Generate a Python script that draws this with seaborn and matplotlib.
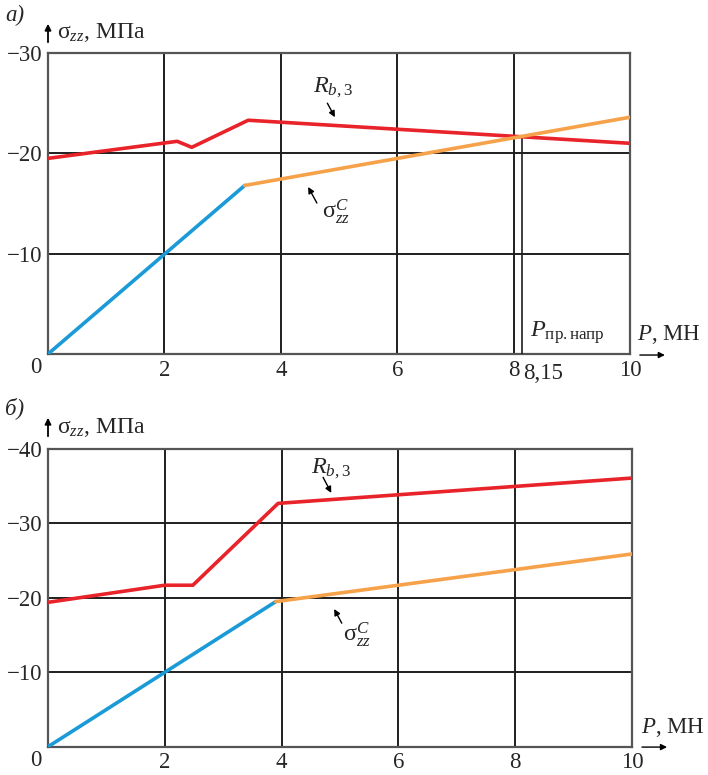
import pandas as pd
import matplotlib
matplotlib.use("Agg")
import matplotlib.pyplot as plt
import seaborn as sns

# --- data (P in MN, sigma in MPa) ---
a_red_p = [0, 2.22, 2.47, 3.44, 10]
a_red_s = [-19.5, -21.2, -20.6, -23.3, -21.0]
a_blue_p = [0, 3.38]
a_blue_s = [0, -16.8]
a_orange_p = [3.38, 10]
a_orange_s = [-16.8, -23.6]
a_p_limit = 8.15
a_s_limit = -21.7

b_red_p = [0, 2.0, 2.48, 3.94, 10]
b_red_s = [-19.4, -21.7, -21.7, -32.7, -36.1]
b_blue_p = [0, 3.9]
b_blue_s = [0, -19.5]
b_orange_p = [3.9, 10]
b_orange_s = [-19.5, -25.9]

x_ticks = [2, 4, 6, 8, 10]
a_y_ticks = [-30, -20, -10]
b_y_ticks = [-40, -30, -20, -10]

RED = "#E8232A"
BLUE = "#1A9AD7"
ORANGE = "#F6A24A"
GRID = "#1e1e1e"

sns.set_theme(style="white")
plt.rcParams["font.family"] = ["Liberation Serif", "DejaVu Serif"]
plt.rcParams["mathtext.fontset"] = "custom"
plt.rcParams["mathtext.rm"] = "Liberation Serif"
plt.rcParams["mathtext.it"] = "Liberation Serif:italic"
plt.rcParams["mathtext.bf"] = "Liberation Serif:bold"
plt.rcParams["axes.unicode_minus"] = True

FS = 16.5

fig = plt.figure(figsize=(7.08, 7.75), dpi=100)
ax_a = fig.add_axes([0.0678, 0.5432, 0.822, 0.3884])
ax_b = fig.add_axes([0.0678, 0.0365, 0.8249, 0.3841])


def draw_lines(ax, series):
    for p, s, c in series:
        df = pd.DataFrame({"P": p, "sigma": s})
        sns.lineplot(data=df, x="P", y="sigma", ax=ax, color=c, lw=2.6,
                     sort=False, estimator=None, zorder=5)


def style_axes(ax, yticks, ylow):
    ax.set_xlim(0, 10)
    ax.set_ylim(0, ylow)
    ax.set_xticks(x_ticks)
    ax.set_yticks(yticks)
    ax.set_xticklabels([str(t) for t in x_ticks], fontsize=FS)
    ax.set_yticklabels([f"\u2212{abs(t)}" for t in yticks], fontsize=FS)
    ax.tick_params(length=0, pad=4)
    ax.grid(True, color=GRID, lw=1.4)
    ax.set_axisbelow(True)
    for sp in ax.spines.values():
        sp.set_color("#555555")
        sp.set_linewidth(1.6)
    ax.set_xlabel("")
    ax.set_ylabel("")
    # zero at the corner
    ax.annotate("0", xy=(0, 0), xycoords="axes fraction", xytext=(-9, -10),
                textcoords="offset points", fontsize=FS, ha="center",
                va="center")


arrow = dict(arrowstyle="-|>", color="black", lw=1.0, mutation_scale=9,
             shrinkA=0, shrinkB=0)

# ---- panel a ----
draw_lines(ax_a, [(a_red_p, a_red_s, RED), (a_blue_p, a_blue_s, BLUE),
                  (a_orange_p, a_orange_s, ORANGE)])
style_axes(ax_a, a_y_ticks, -30)
ax_a.vlines(a_p_limit, 0, a_s_limit, color=GRID, lw=1.2, zorder=3)
ax_a.text(a_p_limit + 0.02, 0.85, "8,15", fontsize=FS, ha="left", va="top",
          clip_on=False)

ax_a.text(4.55, -26.5, "$R_{b,3}$", fontsize=FS + 1, ha="left", va="center")
ax_a.annotate("", xy=(4.93, -23.6), xytext=(4.8, -25.0), arrowprops=arrow)
ax_a.text(4.7, -14.2, "σ$_{zz}^{C}$", fontsize=FS + 1, ha="left", va="center")
ax_a.annotate("", xy=(4.47, -16.65), xytext=(4.62, -15.05), arrowprops=arrow)
ax_a.text(8.28, -2.1, "$P_{\\mathrm{пр.напр}}$", fontsize=FS + 1, ha="left",
          va="center")
ax_a.text(10.12, -1.9, "$P$, МН", fontsize=FS, ha="left", va="center",
          clip_on=False)
ax_a.annotate("", xy=(10.6, 0.1), xytext=(10.17, 0.1), arrowprops=arrow,
              annotation_clip=False)

# ---- panel b ----
draw_lines(ax_b, [(b_red_p, b_red_s, RED), (b_blue_p, b_blue_s, BLUE),
                  (b_orange_p, b_orange_s, ORANGE)])
style_axes(ax_b, b_y_ticks, -40)
ax_b.text(4.5, -37.3, "$R_{b,3}$", fontsize=FS + 1, ha="left", va="center")
ax_b.annotate("", xy=(4.85, -34.1), xytext=(4.71, -36.2), arrowprops=arrow)
ax_b.text(5.05, -15.0, "σ$_{zz}^{C}$", fontsize=FS + 1, ha="left", va="center")
ax_b.annotate("", xy=(4.9, -18.5), xytext=(5.03, -16.6), arrowprops=arrow)
ax_b.text(10.15, -2.6, "$P$, МН", fontsize=FS, ha="left", va="center",
          clip_on=False)
ax_b.annotate("", xy=(10.6, 0.05), xytext=(10.17, 0.05), arrowprops=arrow,
              annotation_clip=False)

# panel letters and y-axis titles (figure pixel positions)
H = 775.0
W = 708.0
for top, letter in [(15, "a)"), (408, "б)")]:
    fig.text(5 / W, 1 - top / H, letter, fontsize=FS, style="italic",
             ha="left", va="center")
for top in (33, 427):
    fig.text(57 / W, 1 - top / H, "σ$_{zz}$, МПа", fontsize=FS + 0.5,
             ha="left", va="center")
    fig.patches.append(matplotlib.patches.FancyArrowPatch(
        (48 / W, 1 - (top + 12) / H), (48 / W, 1 - (top - 12) / H),
        transform=fig.transFigure, arrowstyle="-|>", mutation_scale=9,
        lw=1.3, color="black"))

fig.savefig("out.png", dpi=100)
